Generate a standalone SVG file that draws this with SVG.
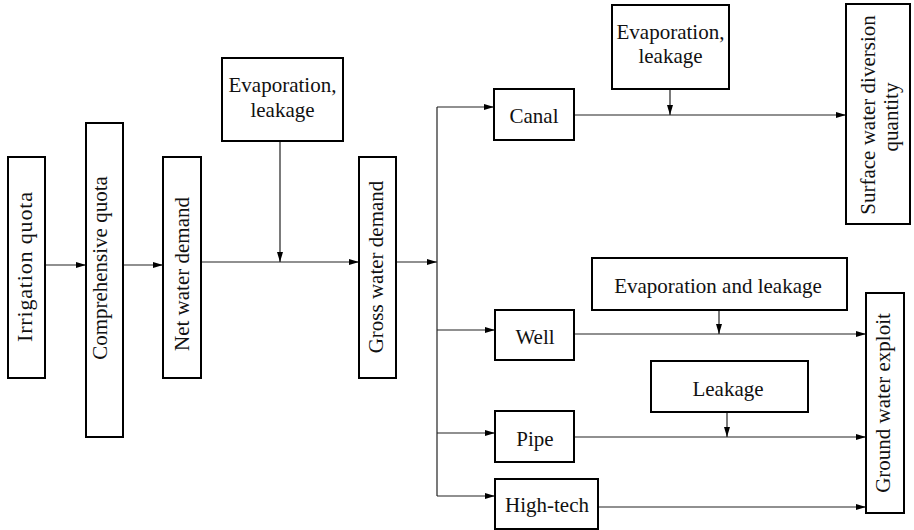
<svg xmlns="http://www.w3.org/2000/svg" width="914" height="530" viewBox="0 0 914 530">
  <style>
    .box { fill: #fff; stroke: #000; stroke-width: 2; }
    .lbl { font-family: "Liberation Serif", "Times New Roman", serif; font-size: 21px; fill: #111; text-anchor: middle; }
    .wire { fill: none; stroke: #222; stroke-width: 1.2; }
  </style>
  <defs>
    <marker id="arrow" markerUnits="userSpaceOnUse" markerWidth="11" markerHeight="7" refX="10" refY="3" orient="auto">
      <path d="M0,0 L10,3 L0,6 Z" fill="#000"/>
    </marker>
  </defs>
  <rect width="914" height="530" fill="#fff"/>

  <!-- connectors -->
  <g id="connectors" class="wire" marker-end="url(#arrow)">
    <line x1="45" y1="265" x2="86" y2="265"/>
    <line x1="123" y1="265" x2="163" y2="265"/>
    <line x1="201" y1="262" x2="359" y2="262"/>
    <line x1="280" y1="141" x2="280" y2="262"/>
    <line x1="396" y1="262" x2="437" y2="262"/>
    <line x1="437" y1="107" x2="437" y2="496" marker-end="none"/>
    <line x1="437" y1="107" x2="494" y2="107"/>
    <line x1="437" y1="330" x2="495" y2="330"/>
    <line x1="437" y1="433" x2="495" y2="433"/>
    <line x1="437" y1="496" x2="495" y2="496"/>
    <line x1="574" y1="115" x2="846" y2="115"/>
    <line x1="670" y1="89" x2="670" y2="115"/>
    <line x1="574" y1="334" x2="866" y2="334"/>
    <line x1="719" y1="310" x2="719" y2="334"/>
    <line x1="574" y1="437" x2="866" y2="437"/>
    <line x1="727" y1="412" x2="727" y2="437"/>
    <line x1="598" y1="507" x2="866" y2="507"/>
  </g>

  <!-- nodes -->
  <g id="irrigation-quota">
    <rect class="box" x="8" y="157" width="37" height="221"/>
    <text class="lbl" style="font-size:22px" textLength="150" lengthAdjust="spacing" transform="translate(32,267) rotate(-90)">Irrigation quota</text>
  </g>
  <g id="comprehensive-quota">
    <rect class="box" x="86" y="123" width="37" height="314"/>
    <text class="lbl" transform="translate(107,268) rotate(-90)">Comprehensive quota</text>
  </g>
  <g id="net-water-demand">
    <rect class="box" x="163" y="157" width="38" height="221"/>
    <text class="lbl" transform="translate(189,274) rotate(-90)">Net water demand</text>
  </g>
  <g id="evaporation-leakage-1">
    <rect class="box" x="222" y="58" width="121" height="83"/>
    <text class="lbl" x="282.5" y="92">Evaporation,</text>
    <text class="lbl" x="282.5" y="117">leakage</text>
  </g>
  <g id="gross-water-demand">
    <rect class="box" x="359" y="157" width="37" height="221"/>
    <text class="lbl" transform="translate(383,267) rotate(-90)">Gross water demand</text>
  </g>
  <g id="canal">
    <rect class="box" x="494" y="89" width="80" height="51"/>
    <text class="lbl" x="534" y="123">Canal</text>
  </g>
  <g id="evaporation-leakage-2">
    <rect class="box" x="612" y="5" width="117" height="84"/>
    <text class="lbl" x="670.5" y="39">Evaporation,</text>
    <text class="lbl" x="670.5" y="63">leakage</text>
  </g>
  <g id="surface-water">
    <rect class="box" x="846" y="4" width="64" height="220"/>
    <text class="lbl" transform="translate(875,115) rotate(-90)">Surface water diversion</text>
    <text class="lbl" transform="translate(898,117) rotate(-90)">quantity</text>
  </g>
  <g id="evaporation-and-leakage">
    <rect class="box" x="592" y="258" width="255" height="52"/>
    <text class="lbl" x="718" y="293">Evaporation and leakage</text>
  </g>
  <g id="well">
    <rect class="box" x="495" y="310" width="79" height="50"/>
    <text class="lbl" x="535" y="344">Well</text>
  </g>
  <g id="leakage">
    <rect class="box" x="651" y="361" width="157" height="51"/>
    <text class="lbl" x="728" y="396">Leakage</text>
  </g>
  <g id="pipe">
    <rect class="box" x="495" y="411" width="79" height="51"/>
    <text class="lbl" x="535" y="446">Pipe</text>
  </g>
  <g id="high-tech">
    <rect class="box" x="495" y="479" width="103" height="50"/>
    <text class="lbl" x="547" y="512">High-tech</text>
  </g>
  <g id="ground-water">
    <rect class="box" x="866" y="293" width="38" height="220"/>
    <text class="lbl" transform="translate(890,403) rotate(-90)">Ground water exploit</text>
  </g>
</svg>
